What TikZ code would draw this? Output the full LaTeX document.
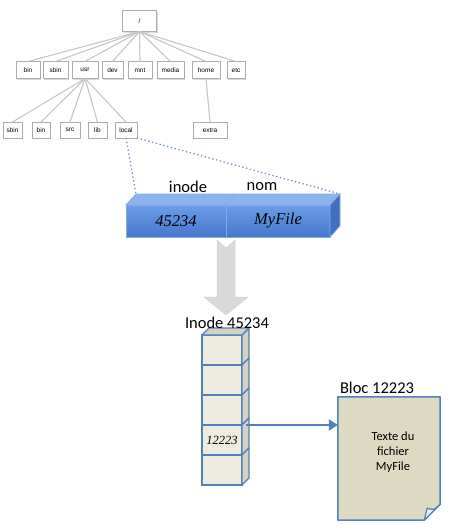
\documentclass[tikz,border=0pt]{standalone}
\usepackage{fontspec}
\setmainfont{Carlito}
\newfontfamily\numfont{Liberation Serif}
\newfontfamily\dirfont{Liberation Sans}
\usepackage{xcolor}
\usepackage{tikz}
\usetikzlibrary{positioning, calc, arrows.meta, shadows}

\definecolor{officeblue}{HTML}{4F81BD}
\definecolor{barhi}{HTML}{6C9DE8}
\definecolor{barlo}{HTML}{4777CC}
\definecolor{baredge}{HTML}{86AAE6}
\definecolor{bartopc}{HTML}{8DB2EC}
\definecolor{barsidec}{HTML}{4270C0}
\definecolor{cellfront}{HTML}{EEECE1}
\definecolor{cellside}{HTML}{D6D2C2}
\definecolor{docfill}{HTML}{DDD9C3}

\begin{document}
\begin{tikzpicture}[
    x=1pt, y=-1pt,
    node distance=4pt,
    dirbox/.style={draw=gray!65, fill=white, rectangle, minimum height=17,
      inner sep=1.5pt, outer sep=0pt, font=\dirfont\fontsize{6.5}{7}\selectfont,
      drop shadow={shadow xshift=1.3pt, shadow yshift=-1.3pt, fill=gray!60, opacity=0.5}},
    subbox/.style={dirbox, minimum height=16},
    treeline/.style={draw=gray!45, line width=1.1pt},
    linkdots/.style={draw=officeblue!85, line width=1.3pt, dash pattern=on 1.3pt off 2.6pt},
    barcell/.style={rectangle, draw=baredge, line width=0.8pt, top color=barhi, bottom color=barlo,
      minimum height=32, outer sep=0pt, font=\numfont\itshape\fontsize{16.5}{18}\selectfont},
    lbl/.style={inner sep=0pt, font=\fontsize{16.5}{18}\selectfont},
    stackcell/.style={rectangle, draw=officeblue, fill=cellfront, line width=1.2pt,
      minimum width=40, minimum height=30, outer sep=0pt, font=\numfont\itshape\fontsize{12.5}{14}\selectfont},
    stackface/.style={draw=officeblue, fill=cellside, line width=1.2pt, line join=round},
    fileptr/.style={draw=officeblue, line width=2pt, -{Triangle[width=11pt,length=9pt]}},
    bigarrow/.style={fill=gray!30, draw=gray!35, line width=0.5pt}
]
\useasboundingbox (0,0) rectangle (450,530);

% arborescence
\node[dirbox, minimum width=34, minimum height=21] (root) at (139.5,21) {/};
\node[dirbox, minimum width=24] (bin) at (28,70) {bin};
\node[dirbox, minimum width=25, right=3pt of bin] (sbin) {sbin};
\node[dirbox, minimum width=26, right=of sbin] (usr) {usr};
\node[dirbox, minimum width=21, right=of usr] (dev) {dev};
\node[dirbox, minimum width=24, right=5pt of dev] (mnt) {mnt};
\node[dirbox, minimum width=27, right=5pt of mnt] (media) {media};
\node[dirbox, minimum width=28, right=8pt of media] (home) {home};
\node[dirbox, minimum width=18, right=7pt of home] (etc) {etc};

\node[subbox, minimum width=19] (usbin) at (12.5,130) {sbin};
\node[subbox, minimum width=18, right=10pt of usbin] (ubin) {bin};
\node[subbox, minimum width=20, right=10pt of ubin] (src) {src};
\node[subbox, minimum width=19, right=8pt of src] (lib) {lib};
\node[subbox, minimum width=22, right=8pt of lib] (local) {local};
\node[subbox, minimum width=34] (extra) at (210,130) {extra};

\draw[treeline] (root.south) -- (bin.north);
\draw[treeline] (root.south) -- (sbin.north);
\draw[treeline] (root.south) -- (usr.north);
\draw[treeline] (root.south) -- (dev.north);
\draw[treeline] (root.south) -- (mnt.north);
\draw[treeline] (root.south) -- (media.north);
\draw[treeline] (root.south) -- (home.north);
\draw[treeline] (root.south) -- (etc.north);
\draw[treeline] (usr.south) -- (usbin.north);
\draw[treeline] (usr.south) -- (ubin.north);
\draw[treeline] (usr.south) -- (src.north);
\draw[treeline] (usr.south) -- (lib.north);
\draw[treeline] (usr.south) -- (local.north);
\draw[treeline] (home.south) -- (extra.north);

% entree de repertoire
\node[barcell, minimum width=100] (ino) at (176,221) {45234};
\node[barcell, minimum width=104, right=0pt of ino] (nom) {MyFile};
\coordinate (bartl) at ($(ino.north west)+(10,-11)$);
\coordinate (bartr) at ($(nom.north east)+(10,-11)$);
\filldraw[fill=bartopc, draw=baredge, line width=0.8pt] (ino.north west) -- (bartl) -- (bartr) -- (nom.north east) -- cycle;
\draw[draw=baredge, line width=0.8pt] (ino.north east) -- ++(10,-11);
\filldraw[fill=barsidec, draw=baredge, line width=0.8pt] (nom.north east) -- (bartr) -- ++(0,32) -- (nom.south east) -- cycle;
\node[lbl] (inolbl) at (188,187) {inode};
\node[lbl] (nomlbl) at (262,187) {nom};

\draw[linkdots] (local.south) -- (bartl);
\draw[linkdots] (local.south east) -- (bartr);

% fleche vers l'inode
\coordinate (arrtop) at ($(ino.south east)+(0,3)$);
\filldraw[bigarrow] (arrtop) ++(-9,0) -- ++(9,8) -- ++(9,-8) -- ++(0,57) -- ++(13,0)
  -- ++(-22,18) -- ++(-22,-18) -- ++(13,0) -- cycle;

% inode
\node[stackcell] (c1) at (222,350) {};
\node[stackcell, below=0pt of c1] (c2) {};
\node[stackcell, below=0pt of c2] (c3) {};
\node[stackcell, below=0pt of c3] (c4) {12223};
\node[stackcell, below=0pt of c4] (c5) {};
\foreach \c in {c1,c2,c3,c4,c5}
  \filldraw[stackface] (\c.north east) -- ++(7,-7) -- ++(0,30) -- (\c.south east) -- cycle;
\filldraw[stackface] (c1.north west) -- ++(7,-7) -- ++(40,0) -- (c1.north east) -- cycle;
\node[lbl] (inodelbl) at (227,323) {Inode 45234};

% bloc de donnees
\node[minimum width=102, minimum height=123, inner sep=0pt] (bloc) at (389,458.5) {};
\filldraw[draw=officeblue, fill=docfill, line width=1.5pt, line join=round]
  (bloc.north west) -- (bloc.north east) -- ($(bloc.south east)+(0,-16)$)
  -- ($(bloc.south east)+(-16,0)$) -- (bloc.south west) -- cycle;
\filldraw[draw=officeblue, fill=cellfront, line width=1.2pt, line join=round]
  ($(bloc.south east)+(0,-16)$) .. controls ($(bloc.south east)+(-6,-10)$) .. ($(bloc.south east)+(-13,-12)$)
  -- ($(bloc.south east)+(-16,0)$) -- cycle;
\node[align=center, font=\fontsize{12.5}{15}\selectfont] (bloctxt) at ($(bloc.center)+(4,-6)$) {Texte du\\fichier\\MyFile};
\node[lbl, anchor=south west] (bloclbl) at ($(bloc.north west)+(2,-3)$) {Bloc 12223};

\draw[fileptr] ($(c4.north east)+(4,0)$) -- (c4.north east -| bloc.west);
\end{tikzpicture}
\end{document}
